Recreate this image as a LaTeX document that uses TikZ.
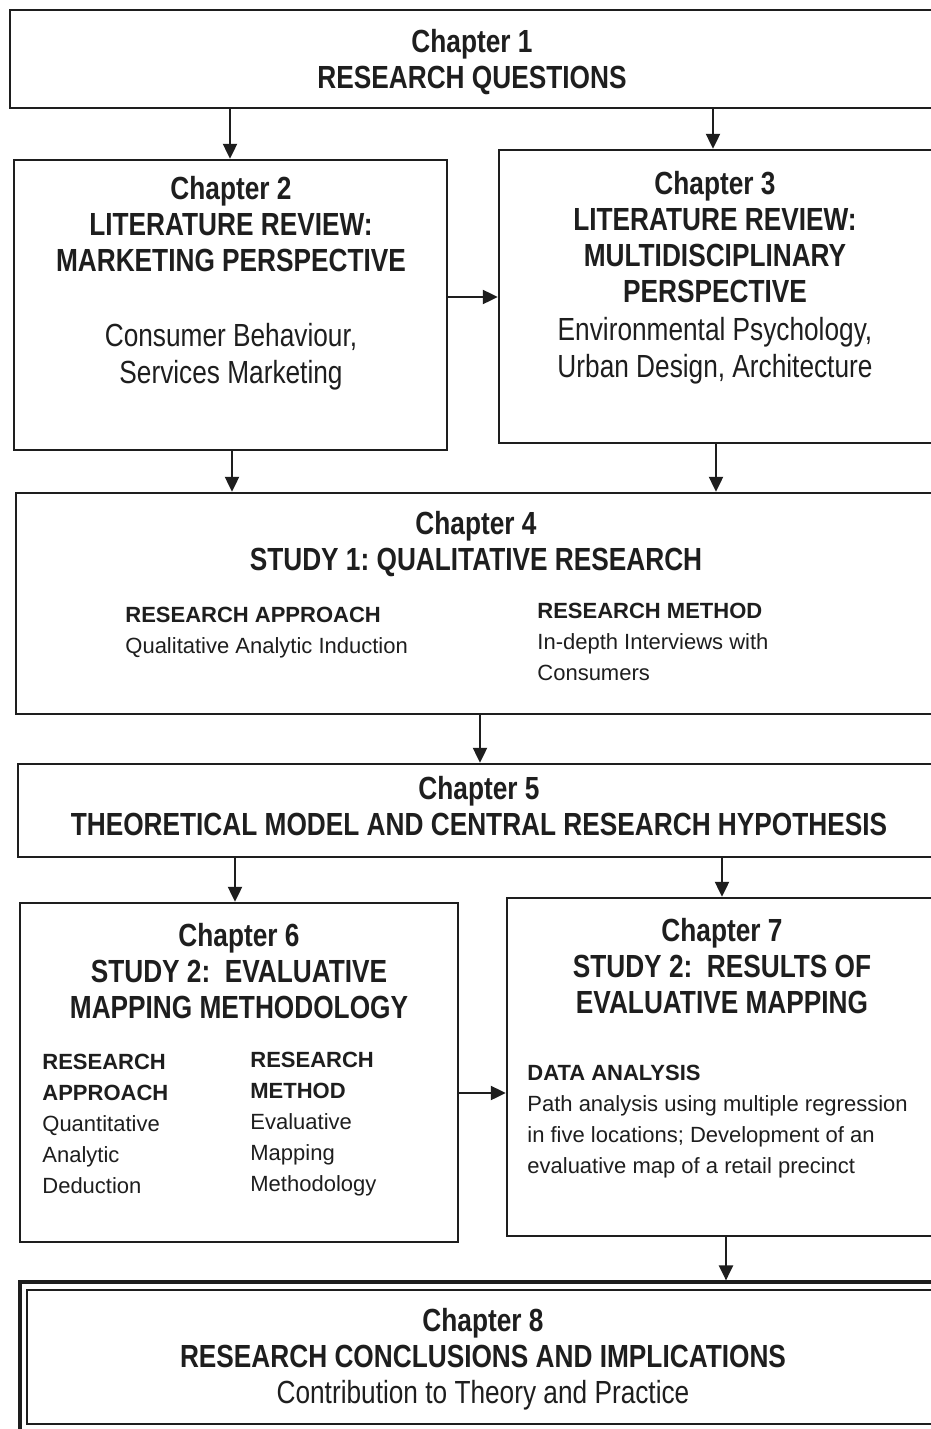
\documentclass[tikz,border=0pt]{standalone}
\usepackage{fontspec}
\setmainfont{Liberation Sans}
\newfontfamily\narrowsans[FakeStretch=0.82]{Liberation Sans}
\usetikzlibrary{arrows.meta,fit}
\definecolor{ink}{HTML}{1E1E1E}
\frenchspacing
\begin{document}
\begin{tikzpicture}[x=0.5pt,y=-0.5pt,
  box/.style={draw=ink, line width=1.2pt, inner sep=0pt},
  head/.style={font=\narrowsans\bfseries\fontsize{16}{18}\selectfont, text=ink,
    align=center, anchor=north, inner sep=0pt},
  body/.style={font=\narrowsans\fontsize{16}{18.5}\selectfont, text=ink,
    align=center, anchor=north, inner sep=0pt},
  small/.style={font=\fontsize{11}{15.5}\selectfont, text=ink,
    align=left, anchor=north west, inner sep=0pt},
  arr/.style={draw=ink, line width=1.1pt, -{Triangle[length=7.5pt,width=7pt]}}
]
\useasboundingbox (0,0) rectangle (931,1429);
\clip (0,0) rectangle (931,1429);
\fill[white] (0,0) rectangle (931,1429);

% chapter boxes
\node[box, fit={(10,10)(950,108)}] (b1) {};
\node[box, fit={(14,160)(447,450)}] (b2) {};
\node[box, fit={(499,150)(950,443)}] (b3) {};
\node[box, fit={(16,493)(950,714)}] (b4) {};
\node[box, fit={(18,764)(950,857)}] (b5) {};
\node[box, fit={(20,903)(458,1242)}] (b6) {};
\node[box, fit={(507,898)(950,1236)}] (b7) {};
\node[box, line width=1.6pt, fit={(20,1282)(950,1434)}] (b8) {};
\node[box, line width=0.9pt, fit={(27,1290)(950,1424)}] (b8in) {};

% texts
\node[head] (t1) at (472,29) {Chapter 1\\RESEARCH QUESTIONS};

\node[head] (t2) at (231,176) {Chapter 2\\LITERATURE REVIEW:\\MARKETING PERSPECTIVE};
\node[body] (t2b) at (231,323) {Consumer Behaviour,\\Services Marketing};

\node[head] (t3) at (715,171) {Chapter 3\\LITERATURE REVIEW:\\MULTIDISCIPLINARY\\PERSPECTIVE};
\node[body] (t3b) at (715,317) {Environmental Psychology,\\Urban Design, Architecture};

\node[head] (t4) at (476,511) {Chapter 4\\STUDY 1: QUALITATIVE RESEARCH};
\node[small] (t4a) at (125,607) {\textbf{RESEARCH APPROACH}\\Qualitative Analytic Induction};
\node[small] (t4m) at (537,603) {\textbf{RESEARCH METHOD}\\In-depth Interviews with\\Consumers};

\node[head] (t5) at (479,776) {Chapter 5\\THEORETICAL MODEL AND CENTRAL RESEARCH HYPOTHESIS};

\node[head] (t6) at (239,923) {Chapter 6\\STUDY 2:\ \ EVALUATIVE\\MAPPING METHODOLOGY};
\node[small] (t6a) at (42,1054) {\textbf{RESEARCH}\\\textbf{APPROACH}\\Quantitative\\Analytic\\Deduction};
\node[small] (t6m) at (250,1052) {\textbf{RESEARCH}\\\textbf{METHOD}\\Evaluative\\Mapping\\Methodology};

\node[head] (t7) at (722,918) {Chapter 7\\STUDY 2:\ \ RESULTS OF\\EVALUATIVE MAPPING};
\node[small] (t7d) at (527,1065) {\textbf{DATA ANALYSIS}\\Path analysis using multiple regression\\in five locations; Development of an\\evaluative map of a retail precinct};

\node[head] (t8) at (483,1308) {Chapter 8\\RESEARCH CONCLUSIONS AND IMPLICATIONS\\{\mdseries Contribution to Theory and Practice}};

% connector positions
\coordinate (c12) at (230,0);
\coordinate (c13) at (713,0);
\coordinate (c23) at (0,297);
\coordinate (c24) at (232,0);
\coordinate (c34) at (716,0);
\coordinate (c45) at (480,0);
\coordinate (c56) at (235,0);
\coordinate (c57) at (722,0);
\coordinate (c67) at (0,1093);
\coordinate (c78) at (726,0);

% connectors
\draw[arr] (c12 |- b1.south) -- (c12 |- b2.north);
\draw[arr] (c13 |- b1.south) -- (c13 |- b3.north);
\draw[arr] (b2.east |- c23) -- (b3.west |- c23);
\draw[arr] (c24 |- b2.south) -- (c24 |- b4.north);
\draw[arr] (c34 |- b3.south) -- (c34 |- b4.north);
\draw[arr] (c45 |- b4.south) -- (c45 |- b5.north);
\draw[arr] (c56 |- b5.south) -- (c56 |- b6.north);
\draw[arr] (c57 |- b5.south) -- (c57 |- b7.north);
\draw[arr] (b6.east |- c67) -- (b7.west |- c67);
\draw[arr] (c78 |- b7.south) -- (c78 |- b8.north);
\end{tikzpicture}
\end{document}
